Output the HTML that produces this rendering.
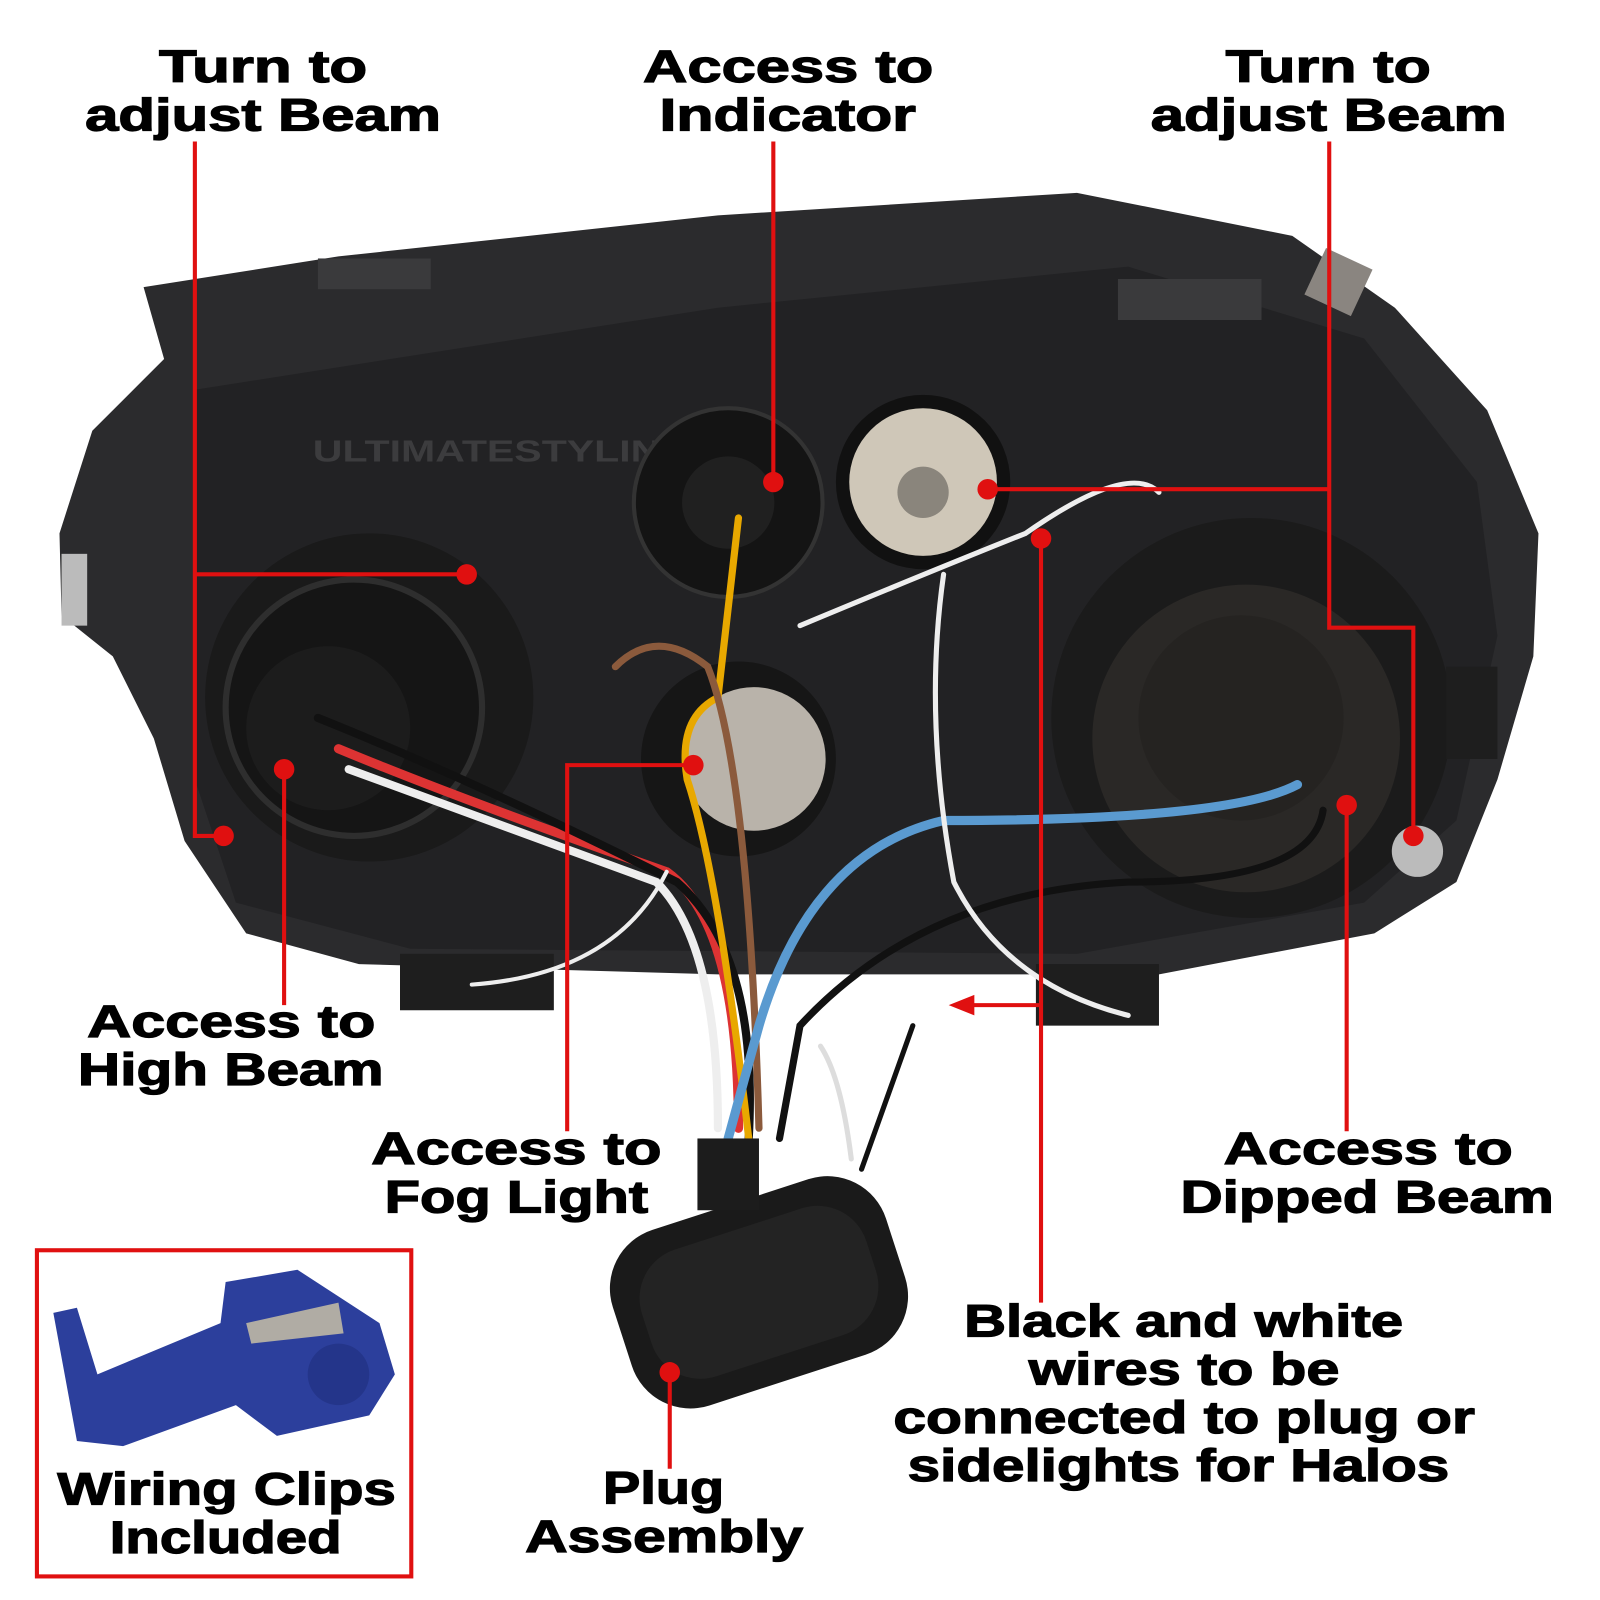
<!DOCTYPE html>
<html><head><meta charset="utf-8"><style>html,body{margin:0;padding:0;background:#fff}svg{display:block}
text{font-family:"Liberation Sans",sans-serif;font-weight:bold;fill:#000;stroke:#000;stroke-width:1.2}</style></head>
<body>
<svg width="1600" height="1600" viewBox="0 0 1560 1560" xmlns="http://www.w3.org/2000/svg">
<rect width="1560" height="1560" fill="#fff"/>
<!-- headlamp body -->
<path d="M140,280 L330,250 L700,210 L1050,188 L1260,230 L1360,300 L1450,400 L1500,520 L1495,640 L1460,760 L1420,860 L1340,910 L1130,950 L700,950 L350,940 L240,910 L180,820 L150,720 L110,640 L60,600 L58,520 L90,420 L160,350 Z" fill="#2b2b2d"/>
<path d="M190,380 L700,300 L1100,260 L1330,330 L1440,470 L1460,620 L1420,800 L1330,880 L1050,930 L400,925 L230,880 L190,760 Z" fill="#222224"/>
<rect x="310" y="252" width="110" height="30" fill="#3a3a3c"/>
<rect x="1090" y="272" width="140" height="40" fill="#3a3a3c"/>
<rect x="1280" y="250" width="50" height="50" fill="#8a8580" transform="rotate(25 1305 275)"/>
<rect x="60" y="540" width="25" height="70" fill="#bbb"/>
<rect x="390" y="930" width="150" height="55" fill="#1e1e1e"/>
<rect x="1010" y="940" width="120" height="60" fill="#1e1e1e"/>
<text x="490" y="450" font-size="30" fill="#3c3c3e" stroke="none" style="fill:#3c3c3e;stroke:none" text-anchor="middle" textLength="370" lengthAdjust="spacingAndGlyphs">ULTIMATESTYLING</text>
<!-- left lamp -->
<circle cx="360" cy="680" r="160" fill="#1a1a1a"/>
<circle cx="345" cy="690" r="125" fill="#151515" stroke="#2e2e2e" stroke-width="6"/>
<circle cx="320" cy="710" r="80" fill="#1c1c1c"/>
<!-- indicator -->
<circle cx="710" cy="490" r="92" fill="#141414" stroke="#333" stroke-width="4"/>
<circle cx="710" cy="490" r="45" fill="#202020"/>
<!-- beige socket -->
<circle cx="900" cy="470" r="85" fill="#111"/>
<circle cx="900" cy="470" r="72" fill="#cfc7b8"/>
<circle cx="900" cy="480" r="25" fill="#8a857c"/>
<!-- fog -->
<circle cx="720" cy="740" r="95" fill="#161616"/>
<circle cx="735" cy="740" r="70" fill="#b9b3aa"/>
<!-- right lamp -->
<circle cx="1220" cy="700" r="195" fill="#1b1b1b"/>
<circle cx="1215" cy="720" r="150" fill="#2a2826"/>
<circle cx="1210" cy="700" r="100" fill="#252321"/>
<circle cx="1382" cy="830" r="25" fill="#bbb"/>
<rect x="1410" y="650" width="50" height="90" fill="#1e1e1e"/>
<!-- wires -->
<g fill="none" stroke-linecap="round">
<path d="M330,730 Q450,780 650,850 Q720,900 720,1100" stroke="#d33" stroke-width="9"/>
<path d="M340,750 Q450,790 640,860 Q700,920 700,1100" stroke="#eee" stroke-width="8"/>
<path d="M310,700 Q460,760 660,860 Q740,930 730,1110" stroke="#111" stroke-width="8"/>
<path d="M720,505 L700,680 Q660,700 670,760 Q700,850 730,1110" stroke="#e8a800" stroke-width="7"/>
<path d="M600,650 Q640,610 690,650 Q730,750 740,1100" stroke="#8b5a3c" stroke-width="7"/>
<path d="M1265,765 Q1200,800 920,800 Q790,830 740,1000 L710,1110" stroke="#5a9ad0" stroke-width="9"/>
<path d="M1290,790 Q1280,860 1100,860 Q900,870 780,1000 L760,1110" stroke="#111" stroke-width="7"/>
<path d="M780,610 Q900,560 1000,520 Q1100,450 1130,480" stroke="#eee" stroke-width="5"/>
<path d="M920,560 Q900,700 930,860 Q980,960 1100,990" stroke="#eee" stroke-width="5"/>
<path d="M800,1020 Q820,1050 830,1130" stroke="#ddd" stroke-width="5"/>
<path d="M890,1000 L840,1140" stroke="#111" stroke-width="5"/>
<path d="M460,960 Q600,950 650,850" stroke="#eee" stroke-width="4"/>
</g>
<!-- plug -->
<rect x="600" y="1170" width="280" height="180" rx="60" fill="#1a1a1a" transform="rotate(-18 740 1260)"/>
<rect x="625" y="1195" width="230" height="130" rx="50" fill="#232323" transform="rotate(-18 740 1260)"/>
<rect x="680" y="1110" width="60" height="70" fill="#1c1c1c"/>
<!-- wiring clip -->
<path d="M52,1280 L75,1275 L95,1340 L215,1290 L220,1250 L290,1238 L370,1290 L385,1340 L360,1380 L270,1400 L230,1370 L120,1410 L75,1405 Z" fill="#2c3f9c"/>
<path d="M240,1290 L330,1270 L335,1300 L245,1310 Z" fill="#b0aca4"/>
<circle cx="330" cy="1340" r="30" fill="#24358a"/>
<rect x="36" y="1219" width="365" height="318" fill="none" stroke="#e01010" stroke-width="4"/>
<!-- red leaders -->
<g stroke="#e01010" stroke-width="4" fill="none">
<path d="M190,138 V815 H218 M190,560 H455"/>
<path d="M754,138 V470"/>
<path d="M1296,138 V612 H1378 V815 M963,477 H1296"/>
<path d="M277,750 V980"/>
<path d="M676,746 H553 V1103"/>
<path d="M1015,525 V1270 M1015,980 H945"/>
<path d="M1313,785 V1103"/>
<path d="M653,1338 V1432"/>
</g>
<polygon points="925,980 950,970 950,990" fill="#e01010"/>
<g fill="#e01010">
<circle cx="455" cy="560" r="10"/><circle cx="218" cy="815" r="10"/><circle cx="754" cy="470" r="10"/>
<circle cx="963" cy="477" r="10"/><circle cx="1378" cy="815" r="10"/><circle cx="277" cy="750" r="10"/>
<circle cx="676" cy="746" r="10"/><circle cx="1015" cy="525" r="10"/><circle cx="1313" cy="785" r="10"/>
<circle cx="653" cy="1338" r="10"/>
</g>
<!-- labels -->
<g font-size="44" text-anchor="start">
<text x="155" y="80" textLength="203" lengthAdjust="spacingAndGlyphs">Turn to</text>
<text x="83" y="127" textLength="347" lengthAdjust="spacingAndGlyphs">adjust Beam</text>
<text x="627" y="80" textLength="283" lengthAdjust="spacingAndGlyphs">Access to</text>
<text x="643" y="127" textLength="250" lengthAdjust="spacingAndGlyphs">Indicator</text>
<text x="1195" y="80" textLength="200" lengthAdjust="spacingAndGlyphs">Turn to</text>
<text x="1122" y="127" textLength="347" lengthAdjust="spacingAndGlyphs">adjust Beam</text>
<text x="85" y="1011" textLength="281" lengthAdjust="spacingAndGlyphs">Access to</text>
<text x="76" y="1058" textLength="298" lengthAdjust="spacingAndGlyphs">High Beam</text>
<text x="362" y="1135" textLength="283" lengthAdjust="spacingAndGlyphs">Access to</text>
<text x="375" y="1182" textLength="257" lengthAdjust="spacingAndGlyphs">Fog Light</text>
<text x="1193" y="1135" textLength="282" lengthAdjust="spacingAndGlyphs">Access to</text>
<text x="1151" y="1182" textLength="364" lengthAdjust="spacingAndGlyphs">Dipped Beam</text>
<text x="940" y="1303" textLength="428" lengthAdjust="spacingAndGlyphs">Black and white</text>
<text x="1003" y="1350" textLength="303" lengthAdjust="spacingAndGlyphs">wires to be</text>
<text x="871" y="1397" textLength="567" lengthAdjust="spacingAndGlyphs">connected to plug or</text>
<text x="885" y="1444" textLength="528" lengthAdjust="spacingAndGlyphs">sidelights for Halos</text>
<text x="588" y="1466" textLength="118" lengthAdjust="spacingAndGlyphs">Plug</text>
<text x="512" y="1513" textLength="271" lengthAdjust="spacingAndGlyphs">Assembly</text>
<text x="56" y="1467" textLength="330" lengthAdjust="spacingAndGlyphs">Wiring Clips</text>
<text x="107" y="1514" textLength="226" lengthAdjust="spacingAndGlyphs">Included</text>
</g>
</svg>
</body></html>
